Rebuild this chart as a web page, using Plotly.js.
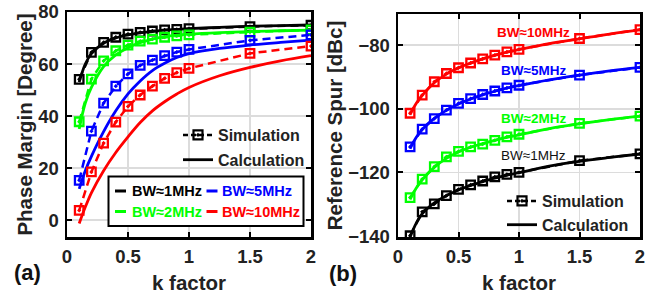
<!DOCTYPE html>
<html><head><meta charset="utf-8">
<script src="https://cdn.plot.ly/plotly-3.0.1.min.js"></script>
<style>html,body{margin:0;padding:0;background:#fff}</style>
</head><body><div id="chart" style="width:668px;height:301px"></div>
<script>
// ---------- data ----------
const kSim  = [0.1,0.2,0.3,0.4,0.5,0.6,0.7,0.8,0.9,1.0,1.5,2.0];
const kCalc = [0.1,0.15,0.2,0.3,0.4,0.5,0.6,0.7,0.8,0.9,1.0,1.25,1.5,1.75,2.0];
const bwNames = ['BW≈1MHz','BW≈2MHz','BW≈5MHz','BW≈10MHz'];

// (a) phase margin [deg]
const pmSim1MHz  = [54.1,64.5,68.3,70.3,71.5,72.2,72.7,73.1,73.3,73.6,74.4,74.9];
const pmSim2MHz  = [37.8,54.2,61.2,65.1,67.3,68.8,69.6,70.3,70.8,71.2,72.3,73.1];
const pmSim5MHz  = [15.3,34.2,45.0,51.5,56.2,59.5,61.5,63.2,64.6,65.6,69.1,71.2];
const pmSim10MHz = [3.7,18.5,29.6,37.7,43.7,48.1,51.5,54.5,56.7,58.3,64.1,66.9];
const pmCalc1MHz  = [53.0,60.0,64.0,68.0,70.0,71.2,72.0,72.5,73.0,73.3,73.6,74.1,74.5,74.8,75.0];
const pmCalc2MHz  = [35.0,45.0,51.0,59.0,63.5,66.3,68.2,69.6,70.5,71.1,71.5,72.1,72.5,72.8,73.0];
const pmCalc5MHz  = [12.0,19.0,24.5,34.0,42.0,48.5,53.5,57.5,60.3,62.5,64.0,66.0,67.3,68.3,69.2];
const pmCalc10MHz = [-1.3,5.0,10.5,19.0,26.0,32.0,37.5,42.0,45.5,48.5,51.0,55.5,58.7,61.2,63.2];

// (b) reference spur [dBc]
const spurSim1MHz  = [-139.9,-132.4,-129.9,-127.3,-125.3,-123.9,-122.7,-121.4,-120.6,-120.0,-116.3,-114.2];
const spurSim2MHz  = [-127.9,-122.1,-118.2,-115.1,-113.4,-112.0,-111.1,-109.9,-108.8,-108.0,-104.6,-102.3];
const spurSim5MHz  = [-112.0,-106.4,-103.1,-100.4,-98.3,-96.8,-95.5,-94.4,-93.4,-92.6,-89.4,-87.0];
const spurSim10MHz = [-101.4,-95.7,-91.5,-88.9,-87.1,-85.6,-84.3,-83.1,-82.1,-81.3,-77.9,-75.1];
const spurCalc1MHz  = [-140.3,-136.0,-133.0,-129.6,-127.3,-125.5,-124.1,-122.9,-121.8,-120.9,-120.1,-118.0,-116.5,-115.3,-114.2];
const spurCalc2MHz  = [-128.5,-125.0,-122.3,-118.4,-115.6,-113.6,-112.1,-110.9,-109.9,-109.0,-108.2,-106.2,-104.7,-103.4,-102.3];
const spurCalc5MHz  = [-112.5,-109.0,-106.5,-103.0,-100.5,-98.5,-96.9,-95.6,-94.5,-93.5,-92.7,-90.9,-89.4,-88.1,-87.0];
const spurCalc10MHz = [-101.8,-98.3,-95.8,-91.8,-89.1,-87.1,-85.6,-84.3,-83.2,-82.2,-81.4,-79.5,-78.0,-76.5,-75.2];

const legendSim = 'Simulation', legendCalc = 'Calculation';

// ---------- styling ----------
const colors = ['#000000','#00ff00','#0000ff','#ff0000'];
const FONT = 'Liberation Sans, Arial, Helvetica, sans-serif';
const W = 668, H = 301;
const px = v => v / W, py = v => 1 - v / H;

const pmSim = [pmSim1MHz, pmSim2MHz, pmSim5MHz, pmSim10MHz];
const pmCalc = [pmCalc1MHz, pmCalc2MHz, pmCalc5MHz, pmCalc10MHz];
const spurSim = [spurSim1MHz, spurSim2MHz, spurSim5MHz, spurSim10MHz];
const spurCalc = [spurCalc1MHz, spurCalc2MHz, spurCalc5MHz, spurCalc10MHz];

const traces = [];
for (let i = 0; i < 4; i++) {
  traces.push({x: kCalc, y: pmCalc[i], xaxis: 'x', yaxis: 'y', mode: 'lines', name: bwNames[i] + ' calc',
    line: {color: colors[i], width: 2.8, shape: 'spline'}, showlegend: false, hoverinfo: 'skip'});
  traces.push({x: kSim, y: pmSim[i], xaxis: 'x', yaxis: 'y', mode: 'lines+markers', name: bwNames[i] + ' sim',
    line: {color: colors[i], width: 2.5, dash: '8px,5px'},
    marker: {symbol: 'square-open-dot', size: 8.5, color: colors[i], line: {width: 2.3, color: colors[i]}},
    showlegend: false});
  traces.push({x: kCalc, y: spurCalc[i], xaxis: 'x2', yaxis: 'y2', mode: 'lines', name: bwNames[i] + ' calc',
    line: {color: colors[i], width: 2.8, shape: 'spline'}, showlegend: false, hoverinfo: 'skip'});
  traces.push({x: kSim, y: spurSim[i], xaxis: 'x2', yaxis: 'y2', mode: 'lines+markers', name: bwNames[i] + ' sim',
    line: {color: colors[i], width: 2.5, dash: '8px,5px'},
    marker: {symbol: 'square-open-dot', size: 8.5, color: colors[i], line: {width: 2.3, color: colors[i]}},
    showlegend: false});
}
// legend keys (black)
[['legend','x','y',true],['legend2','x2','y2',false]].forEach(([lg, xa, ya, split]) => {
  traces.push({x: [null], y: [null], xaxis: xa, yaxis: ya, mode: 'lines+markers', name: legendSim, legend: lg,
    legendgroup: split ? lg + 's' : lg,
    line: {color: '#000', width: 2.5, dash: '5px,3px'},
    marker: {symbol: 'square-open-dot', size: 9, color: '#000', line: {width: 2.2, color: '#000'}}});
  traces.push({x: [null], y: [null], xaxis: xa, yaxis: ya, mode: 'lines', name: legendCalc, legend: lg,
    legendgroup: split ? lg + 'c' : lg,
    line: {color: '#000', width: 2.8}});
});

const axisCommon = {
  showline: true, linecolor: '#000', linewidth: 2.5, mirror: 'ticks',
  ticks: 'inside', ticklen: 5, tickwidth: 2, tickcolor: '#000',
  showgrid: true, gridcolor: '#dcdcdc', gridwidth: 1.6, zeroline: false,
  tickfont: {family: FONT, size: 18.5, color: '#222', weight: 'bold'}
};
const titleFont = {family: FONT, size: 20.5, color: '#222', weight: 'bold'};

const xTicks = [0, 0.5, 1, 1.5, 2];
const xTickText = ['0', '0.5', '1', '1.5', '2'];

const layout = {
  width: W, height: H, margin: {l: 0, r: 0, t: 0, b: 0},
  paper_bgcolor: '#fff', plot_bgcolor: '#fff',
  font: {family: FONT, color: '#222'},
  showlegend: true,
  xaxis: Object.assign({}, axisCommon, {domain: [px(67), px(311)], range: [0, 2], anchor: 'y',
    tickvals: xTicks, ticktext: xTickText, ticklabelstandoff: 1,
    title: {text: 'k factor', font: titleFont, standoff: 10}}),
  yaxis: Object.assign({}, axisCommon, {domain: [py(237), py(12)], range: [-6.5, 80], anchor: 'x',
    tickvals: [0, 20, 40, 60, 80], ticklabelstandoff: 2,
    title: {text: 'Phase Margin [Degree]', font: titleFont, standoff: 0}}),
  xaxis2: Object.assign({}, axisCommon, {domain: [px(398), px(640)], range: [0, 2], anchor: 'y2',
    tickvals: xTicks, ticktext: xTickText, ticklabelstandoff: 1,
    title: {text: 'k factor', font: titleFont, standoff: 10}}),
  yaxis2: Object.assign({}, axisCommon, {domain: [py(237), py(14)], range: [-140.3, -70.2], anchor: 'x2',
    tickvals: [-140, -120, -100, -80], ticklabelstandoff: 2,
    title: {text: 'Reference Spur [dBc]', font: titleFont, standoff: 0}}),
  legend: {x: px(178), y: py(118), xanchor: 'left', yanchor: 'top', bgcolor: 'rgba(0,0,0,0)',
    borderwidth: 0, font: {family: FONT, size: 16, color: '#222', weight: 'bold'}, tracegroupgap: 1},
  legend2: {x: px(502), y: py(184), xanchor: 'left', yanchor: 'top', bgcolor: 'rgba(0,0,0,0)',
    borderwidth: 0, font: {family: FONT, size: 16, color: '#222', weight: 'bold'}, tracegroupgap: 0},
  shapes: [
    {type: 'rect', xref: 'paper', yref: 'paper', x0: px(108.5), x1: px(303.5), y0: py(226), y1: py(176.5),
      line: {color: '#000', width: 2}, fillcolor: '#fff', layer: 'above'}
  ],
  annotations: []
};

// BW legend box (panel a): entries arranged like the original (2 columns)
const boxEntries = [
  {i: 0, dx: 115, tx: 130, y: 191},
  {i: 2, dx: 206.5, tx: 220, y: 191},
  {i: 1, dx: 115, tx: 130, y: 211.5},
  {i: 3, dx: 206.5, tx: 220, y: 211.5}
];
boxEntries.forEach(e => {
  layout.shapes.push({type: 'line', xref: 'paper', yref: 'paper', x0: px(e.dx), x1: px(e.dx + 11),
    y0: py(e.y), y1: py(e.y), line: {color: colors[e.i], width: 3}, layer: 'above'});
  layout.annotations.push({xref: 'paper', yref: 'paper', x: px(e.tx), y: py(e.y), xanchor: 'left', yanchor: 'middle',
    text: bwNames[e.i], showarrow: false, font: {family: FONT, size: 14.5, color: colors[e.i], weight: 'bold'}});
});

// curve labels in panel (b)
const labelPos = [[1.12, -114.7], [1.12, -103.0], [1.12, -88.1], [1.12, -76.1]];
for (let i = 0; i < 4; i++) {
  layout.annotations.push({xref: 'x2', yref: 'y2', x: labelPos[i][0], y: labelPos[i][1], showarrow: false,
    xanchor: 'center', yanchor: 'middle',
    text: bwNames[i], font: {family: FONT, size: 13.5, color: i === 0 ? '#111' : colors[i],
    weight: i === 0 ? 'normal' : 'bold'}});
}
// panel letters
layout.annotations.push({xref: 'paper', yref: 'paper', x: px(27), y: py(272), xanchor: 'center', yanchor: 'middle',
  text: '(a)', showarrow: false, font: {family: FONT, size: 22, color: '#111', weight: 'bold'}});
layout.annotations.push({xref: 'paper', yref: 'paper', x: px(343), y: py(273), xanchor: 'center', yanchor: 'middle',
  text: '(b)', showarrow: false, font: {family: FONT, size: 22, color: '#111', weight: 'bold'}});

Plotly.newPlot('chart', traces, layout, {staticPlot: true, displayModeBar: false});
</script></body></html>
